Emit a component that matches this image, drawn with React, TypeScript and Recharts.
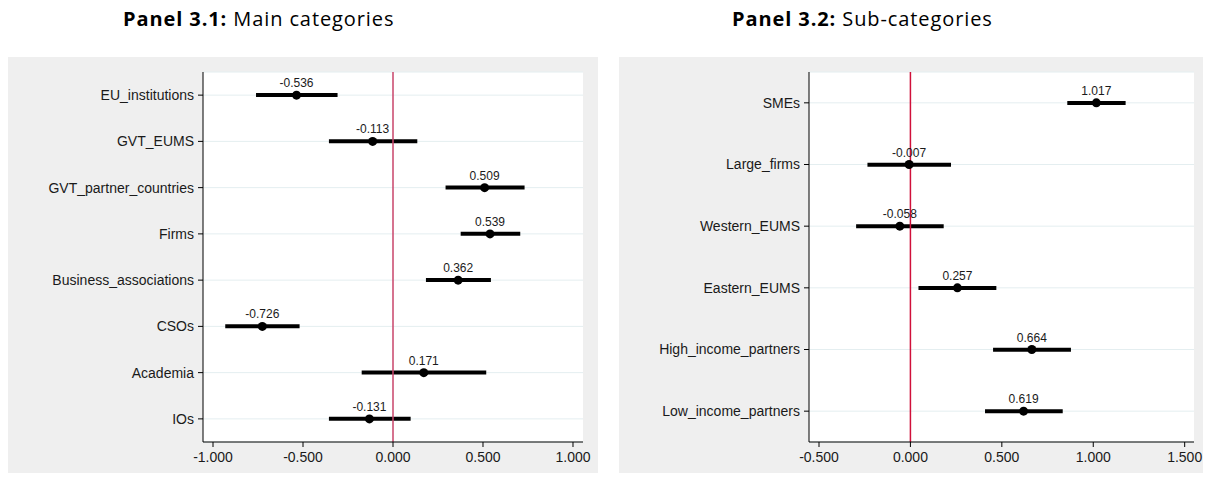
import React from 'react';
import {
  ComposedChart,
  Bar,
  Line,
  XAxis,
  YAxis,
  CartesianGrid,
  ReferenceLine,
  LabelList
} from 'recharts';

// Panel 3.1 - main categories
const mainCategories = [
  'EU_institutions',
  'GVT_EUMS',
  'GVT_partner_countries',
  'Firms',
  'Business_associations',
  'CSOs',
  'Academia',
  'IOs'
];
const mainCoef = [-0.536, -0.113, 0.509, 0.539, 0.362, -0.726, 0.171, -0.131];
const mainLow = [-0.761, -0.356, 0.292, 0.376, 0.183, -0.932, -0.174, -0.356];
const mainHigh = [-0.308, 0.135, 0.731, 0.707, 0.544, -0.519, 0.518, 0.098];
const mainTicks = [-1, -0.5, 0, 0.5, 1];

// Panel 3.2 - sub-categories
const subCategories = [
  'SMEs',
  'Large_firms',
  'Western_EUMS',
  'Eastern_EUMS',
  'High_income_partners',
  'Low_income_partners'
];
const subCoef = [1.017, -0.007, -0.058, 0.257, 0.664, 0.619];
const subLow = [0.858, -0.235, -0.297, 0.044, 0.452, 0.408];
const subHigh = [1.177, 0.222, 0.182, 0.47, 0.878, 0.833];
const subTicks = [-0.5, 0, 0.5, 1, 1.5];

const buildRows = (names: string[], coef: number[], lo: number[], hi: number[]) =>
  names.map((name, i) => ({ name, coef: coef[i], ci: [lo[i], hi[i]] }));

const SANS = '"Liberation Sans", Arial, Helvetica, sans-serif';
const tickFont = { fontSize: 14, fill: '#1a1a1a', fontFamily: SANS };

type PanelProps = {
  rows: { name: string; coef: number; ci: number[] }[];
  width: number;
  yWidth: number;
  rightMargin: number;
  domain: [number, number];
  ticks: number[];
  zeroColor: string;
};

function CoefPanel({ rows, width, yWidth, rightMargin, domain, ticks, zeroColor }: PanelProps) {
  return (
    <ComposedChart
      layout="vertical"
      width={width}
      height={416}
      data={rows}
      margin={{ top: 15, right: rightMargin, bottom: 0, left: 0 }}
      style={{ fontFamily: SANS }}
    >
      <CartesianGrid vertical={false} stroke="#e4eef0" fill="#ffffff" fillOpacity={1} />
      <XAxis
        type="number"
        domain={domain}
        ticks={ticks}
        allowDataOverflow
        height={31}
        tickSize={5}
        tickMargin={5}
        stroke="#000"
        tick={tickFont}
        tickFormatter={(v: number) => v.toFixed(3)}
      />
      <YAxis
        type="category"
        dataKey="name"
        width={yWidth}
        tickSize={5}
        tickMargin={4}
        stroke="#000"
        tick={tickFont}
        interval={0}
      />
      <Bar dataKey="ci" fill="#000" barSize={4} isAnimationActive={false} />
      <Line
        dataKey="coef"
        stroke="none"
        dot={{ r: 4.5, fill: '#000', stroke: '#000', strokeWidth: 0 }}
        activeDot={false}
        isAnimationActive={false}
      >
        <LabelList
          dataKey="coef"
          position="top"
          offset={8}
          formatter={(v: number) => v.toFixed(3)}
          style={{ fontSize: 12, fill: '#1a1a1a', fontFamily: SANS }}
        />
      </Line>
      <ReferenceLine x={0} stroke={zeroColor} strokeWidth={1.5} />
    </ComposedChart>
  );
}

export default function App() {
  const mainRows = buildRows(mainCategories, mainCoef, mainLow, mainHigh);
  const subRows = buildRows(subCategories, subCoef, subLow, subHigh);
  const titleStyle: React.CSSProperties = {
    position: 'absolute',
    top: 5,
    fontFamily: '"Open Sans", sans-serif',
    fontSize: 20,
    letterSpacing: 0.9,
    whiteSpace: 'nowrap',
    color: '#000'
  };
  return (
    <div
      style={{
        position: 'absolute',
        left: 0,
        top: 0,
        width: 1212,
        height: 478,
        background: '#fff',
        fontFamily: SANS
      }}
    >
      <div style={{ ...titleStyle, left: 123 }}>
        <b>Panel 3.1:</b> Main categories
      </div>
      <div style={{ ...titleStyle, left: 732 }}>
        <b>Panel 3.2:</b> Sub-categories
      </div>

      <div style={{ position: 'absolute', left: 8, top: 57, width: 590, height: 416, background: '#efefef' }}>
        <CoefPanel
          rows={mainRows}
          width={590}
          yWidth={195}
          rightMargin={15}
          domain={[-1.0556, 1.0556]}
          ticks={mainTicks}
          zeroColor="#c8456a"
        />
      </div>

      <div style={{ position: 'absolute', left: 619, top: 57, width: 584, height: 416, background: '#efefef' }}>
        <CoefPanel
          rows={subRows}
          width={584}
          yWidth={190}
          rightMargin={9}
          domain={[-0.5547, 1.551]}
          ticks={subTicks}
          zeroColor="#d0103a"
        />
      </div>
    </div>
  );
}
